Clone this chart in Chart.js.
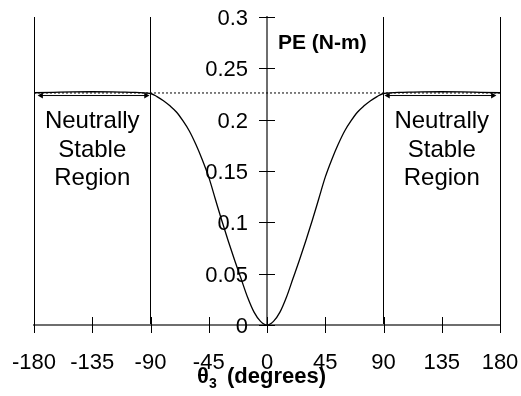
<!DOCTYPE html>
<html>
<head>
<meta charset="utf-8">
<script src="https://cdn.jsdelivr.net/npm/chart.js@4.4.1/dist/chart.umd.min.js"></script>
<style>
  body { margin: 0; background: #fff; }
</style>
</head>
<body>
<canvas id="chart" width="521" height="396"></canvas>
<script>
// theta3 (degrees) and potential energy (N-m)
const thetaDeg = [-180, -165, -150, -135, -120, -105, -90, -85, -80, -75, -70, -65, -60, -55, -50, -45, -40, -35, -30, -25, -20, -15, -10, -5,
  0, 5, 10, 15, 20, 25, 30, 35, 40, 45, 50, 55, 60, 65, 70, 75, 80, 85, 90, 105, 120, 135, 150, 165, 180];
const potentialEnergy = [0.2262, 0.2266, 0.2270, 0.2272, 0.2271, 0.2266, 0.2255, 0.2225, 0.2185, 0.2135, 0.2075, 0.1990, 0.1890, 0.1760, 0.1610, 0.1440, 0.1230, 0.1020, 0.0820, 0.0630, 0.0450, 0.0270, 0.0125, 0.0035,
  0, 0.0035, 0.0125, 0.0270, 0.0450, 0.0630, 0.0820, 0.1020, 0.1230, 0.1440, 0.1610, 0.1760, 0.1890, 0.1990, 0.2075, 0.2135, 0.2185, 0.2225, 0.2255, 0.2266, 0.2271, 0.2272, 0.2270, 0.2266, 0.2262];

// dotted reference level across the whole range
const levelX = [-180, 180];
const levelPE = [0.226, 0.226];

// double arrows marking the neutrally stable regions
const arrowLeftX = [-174.5, -93.5];
const arrowRightX = [93.5, 174.5];
const arrowPE = 0.2235;

const xTickStep = 45;
const yTickStep = 0.05;
const boundaryLines = [-180, -90, 90, 180];
const regionCenters = [-135, 135];
const regionLines = ['Neutrally', 'Stable', 'Region'];
const yTitle = 'PE (N-m)';

const FONT = "'Liberation Sans', Arial, Helvetica, sans-serif";
Chart.defaults.font.family = FONT;
Chart.defaults.color = '#000';

function pairs(xs, ys) {
  return xs.map((v, i) => ({ x: v, y: Array.isArray(ys) ? ys[i] : ys }));
}

// tick marks crossing the axes, y labels, annotations and the x title
const overlayPlugin = {
  id: 'overlay',
  afterDraw(chart) {
    const { ctx, chartArea } = chart;
    const xs = chart.scales.x;
    const ys = chart.scales.y;
    const x0 = xs.getPixelForValue(0);
    ctx.save();
    ctx.strokeStyle = '#000';
    ctx.lineWidth = 1;
    xs.ticks.forEach(t => {
      const px = Math.round(xs.getPixelForValue(t.value)) + 0.5;
      ctx.beginPath();
      ctx.moveTo(px, chartArea.bottom - 8);
      ctx.lineTo(px, chartArea.bottom + 8);
      ctx.stroke();
    });
    ctx.font = '22px ' + FONT;
    ctx.fillStyle = '#000';
    ctx.textAlign = 'right';
    ctx.textBaseline = 'middle';
    ys.ticks.forEach(t => {
      const py = Math.round(ys.getPixelForValue(t.value)) + 0.5;
      ctx.beginPath();
      ctx.moveTo(x0 - 8, py);
      ctx.lineTo(x0 + 8, py);
      ctx.stroke();
      ctx.fillText(t.label, x0 - 19, py + 1);
    });

    // region labels
    ctx.font = '24px ' + FONT;
    ctx.textAlign = 'center';
    ctx.textBaseline = 'alphabetic';
    regionCenters.forEach(c => {
      const px = xs.getPixelForValue(c);
      regionLines.forEach((line, i) => {
        ctx.fillText(line, px, chartArea.top + 111 + i * 28.5);
      });
    });

    // y title next to the axis
    ctx.font = 'bold 21px ' + FONT;
    ctx.textAlign = 'left';
    ctx.fillText(yTitle, x0 + 11, chartArea.top + 32);

    // x title with subscript
    const base = chartArea.bottom + 58;
    ctx.font = 'bold 22px ' + FONT;
    ctx.fillText('\u03b8', x0 - 70, base);
    ctx.font = 'bold 14px ' + FONT;
    ctx.fillText('3', x0 - 58, base + 5);
    ctx.font = 'bold 22px ' + FONT;
    ctx.fillText('(degrees)', x0 - 40, base);
    ctx.restore();
  }
};

const chart = new Chart(document.getElementById('chart'), {
  type: 'line',
  data: {
    datasets: [
      {
        label: 'PE',
        data: pairs(thetaDeg, potentialEnergy),
        borderColor: '#000',
        borderWidth: 1.3,
        pointRadius: 0,
        cubicInterpolationMode: 'monotone',
        fill: false,
      },
      {
        label: 'level',
        data: pairs(levelX, levelPE),
        borderColor: '#000',
        borderWidth: 1,
        borderDash: [2, 2],
        pointRadius: 0,
        fill: false,
      },
      {
        label: 'arrowLeft',
        data: pairs(arrowLeftX, arrowPE),
        borderColor: '#000',
        backgroundColor: '#000',
        borderWidth: 1,
        pointStyle: 'triangle',
        pointRadius: 3.5,
        pointBorderWidth: 0,
        pointRotation: [-90, 90],
        fill: false,
      },
      {
        label: 'arrowRight',
        data: pairs(arrowRightX, arrowPE),
        borderColor: '#000',
        backgroundColor: '#000',
        borderWidth: 1,
        pointStyle: 'triangle',
        pointRadius: 3.5,
        pointBorderWidth: 0,
        pointRotation: [-90, 90],
        fill: false,
      },
    ],
  },
  options: {
    responsive: false,
    animation: false,
    layout: {
      padding: { left: 34, right: 21, top: 17, bottom: 22 },
    },
    plugins: {
      legend: { display: false },
      tooltip: { enabled: false },
    },
    scales: {
      x: {
        type: 'linear',
        position: 'bottom',
        min: -180,
        max: 180,
        ticks: {
          stepSize: xTickStep,
          font: { size: 22 },
          color: '#000',
          padding: 25,
          maxRotation: 0,
        },
        grid: {
          drawTicks: false,
          lineWidth: 1,
          color: ctx => (ctx.tick && boundaryLines.includes(ctx.tick.value)) ? '#000' : 'rgba(0,0,0,0)',
        },
        border: { display: true, color: '#6e6e6e', width: 2 },
        afterFit(scale) {
          scale.paddingLeft = 0;
          scale.paddingRight = 0;
          scale.height = 49;
        },
      },
      y: {
        type: 'linear',
        position: { x: 0 },
        min: 0,
        max: 0.3,
        ticks: {
          stepSize: yTickStep,
          display: false,
          callback: v => String(Number(v.toFixed(2))),
        },
        grid: { display: false },
        border: { display: true, color: '#6e6e6e', width: 2 },
        afterFit(scale) {
          scale.width = 0;
        },
      },
    },
  },
  plugins: [overlayPlugin],
});
</script>
</body>
</html>
